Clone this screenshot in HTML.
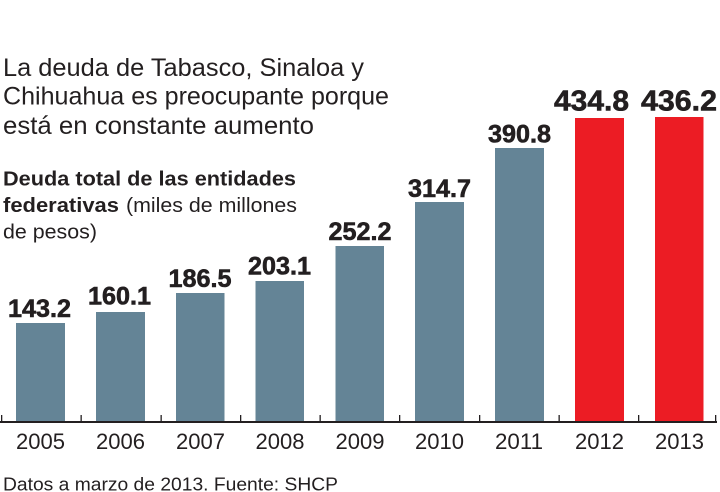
<!DOCTYPE html>
<html>
<head>
<meta charset="utf-8">
<style>
  html, body { margin: 0; padding: 0; background: #ffffff; }
  svg { display: block; }
  .t { font-family: "Liberation Sans", "DejaVu Sans", sans-serif; fill: #231f20; }
  .b { font-weight: bold; }
  .hv { stroke: #231f20; stroke-width: 0.6; }
</style>
</head>
<body>
<svg width="720" height="492" viewBox="0 0 720 492" xmlns="http://www.w3.org/2000/svg">
  <rect x="0" y="0" width="720" height="492" fill="#ffffff"/>

  <!-- Title -->
  <text class="t" x="3" y="76" font-size="25" textLength="361" lengthAdjust="spacingAndGlyphs">La deuda de Tabasco, Sinaloa y</text>
  <text class="t" x="3" y="104.5" font-size="25" textLength="386" lengthAdjust="spacingAndGlyphs">Chihuahua es preocupante porque</text>
  <text class="t" x="3" y="134" font-size="25" textLength="311" lengthAdjust="spacingAndGlyphs">está en constante aumento</text>

  <!-- Subtitle -->
  <text class="t b" x="3" y="185.5" font-size="20" textLength="293" lengthAdjust="spacingAndGlyphs">Deuda total de las entidades</text>
  <text class="t b" x="3" y="212" font-size="20" textLength="116" lengthAdjust="spacingAndGlyphs">federativas</text>
  <text class="t" x="126" y="212" font-size="20" textLength="171" lengthAdjust="spacingAndGlyphs">(miles de millones</text>
  <text class="t" x="3" y="238.5" font-size="20" textLength="94" lengthAdjust="spacingAndGlyphs">de pesos)</text>

  <!-- Bars -->
  <g fill="#648496">
    <rect x="16" y="323" width="49" height="99"/>
    <rect x="96" y="312" width="49" height="110"/>
    <rect x="176" y="293" width="48.5" height="129"/>
    <rect x="255.5" y="281" width="48.5" height="141"/>
    <rect x="335.5" y="246" width="48.5" height="176"/>
    <rect x="415" y="202" width="49" height="220"/>
    <rect x="495" y="148" width="49" height="274"/>
  </g>
  <g fill="#ec1c24">
    <rect x="575" y="118" width="49" height="304"/>
    <rect x="655" y="117" width="48.5" height="305"/>
  </g>

  <!-- Axis -->
  <rect x="0" y="421" width="717" height="2" fill="#231f20"/>
  <g fill="#231f20">
    <rect x="1" y="415" width="1.3" height="7"/>
    <rect x="80.5" y="415" width="1.3" height="7"/>
    <rect x="160.5" y="415" width="1.3" height="7"/>
    <rect x="240" y="415" width="1.3" height="7"/>
    <rect x="319.5" y="415" width="1.3" height="7"/>
    <rect x="399" y="415" width="1.3" height="7"/>
    <rect x="479" y="415" width="1.3" height="7"/>
    <rect x="558.5" y="415" width="1.3" height="7"/>
    <rect x="638" y="415" width="1.3" height="7"/>
    <rect x="715" y="415" width="1.3" height="7"/>
  </g>

  <!-- Value labels -->
  <g class="t b hv" font-size="25">
    <text x="8" y="317" textLength="63" lengthAdjust="spacingAndGlyphs">143.2</text>
    <text x="88" y="304.5" textLength="63" lengthAdjust="spacingAndGlyphs">160.1</text>
    <text x="168.5" y="287" textLength="63" lengthAdjust="spacingAndGlyphs">186.5</text>
    <text x="248" y="274.5" textLength="63" lengthAdjust="spacingAndGlyphs">203.1</text>
    <text x="328.5" y="240" textLength="63" lengthAdjust="spacingAndGlyphs">252.2</text>
    <text x="408" y="197" textLength="63" lengthAdjust="spacingAndGlyphs">314.7</text>
    <text x="488" y="142.7" textLength="63" lengthAdjust="spacingAndGlyphs">390.8</text>
  </g>
  <g class="t b hv" font-size="29">
    <text x="554" y="110.7" textLength="75" lengthAdjust="spacingAndGlyphs">434.8</text>
    <text x="641" y="110.5" textLength="76" lengthAdjust="spacingAndGlyphs">436.2</text>
  </g>

  <!-- Year labels -->
  <g class="t" font-size="22" fill="#2a2a2a">
    <text x="16" y="449" textLength="49" lengthAdjust="spacingAndGlyphs">2005</text>
    <text x="96" y="449" textLength="49" lengthAdjust="spacingAndGlyphs">2006</text>
    <text x="176" y="449" textLength="49" lengthAdjust="spacingAndGlyphs">2007</text>
    <text x="255.5" y="449" textLength="49" lengthAdjust="spacingAndGlyphs">2008</text>
    <text x="335.5" y="449" textLength="49" lengthAdjust="spacingAndGlyphs">2009</text>
    <text x="415" y="449" textLength="49" lengthAdjust="spacingAndGlyphs">2010</text>
    <text x="495" y="449" textLength="48" lengthAdjust="spacingAndGlyphs">2011</text>
    <text x="575" y="449" textLength="49" lengthAdjust="spacingAndGlyphs">2012</text>
    <text x="655" y="449" textLength="49" lengthAdjust="spacingAndGlyphs">2013</text>
  </g>

  <!-- Footer -->
  <text class="t" x="3" y="490.5" font-size="18" fill="#2a2a2a" textLength="335" lengthAdjust="spacingAndGlyphs">Datos a marzo de 2013. Fuente: SHCP</text>
</svg>
</body>
</html>
